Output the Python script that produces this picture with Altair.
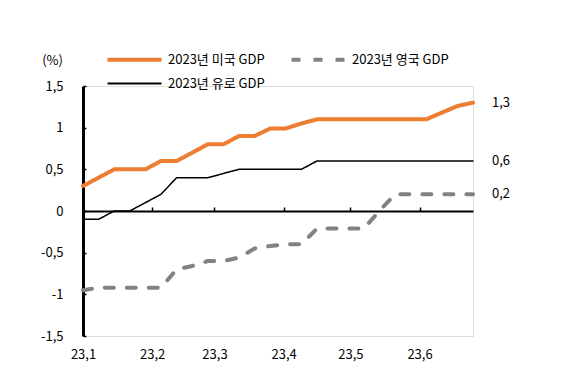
import altair as alt
import pandas as pd

dates = ["2023-01-01", "2023-01-08", "2023-01-15", "2023-01-22", "2023-01-29",
         "2023-02-05", "2023-02-12", "2023-02-19", "2023-02-26", "2023-03-05",
         "2023-03-12", "2023-03-19", "2023-03-26", "2023-04-02", "2023-04-09",
         "2023-04-16", "2023-04-23", "2023-04-30", "2023-05-07", "2023-05-14",
         "2023-05-21", "2023-05-28", "2023-06-04", "2023-06-11", "2023-06-18",
         "2023-06-25"]

us = [0.3, 0.4, 0.5, 0.5, 0.5, 0.6, 0.6, 0.7, 0.8, 0.8, 0.9, 0.9, 0.99, 0.99,
      1.05, 1.1, 1.1, 1.1, 1.1, 1.1, 1.1, 1.1, 1.1, 1.18, 1.26, 1.3]
uk = [-0.95, -0.92, -0.92, -0.92, -0.92, -0.92, -0.7, -0.66, -0.6, -0.6,
      -0.56, -0.45, -0.42, -0.4, -0.4, -0.21, -0.21, -0.21, -0.21, 0.0,
      0.2, 0.2, 0.2, 0.2, 0.2, 0.2]
euro = [-0.1, -0.1, 0.0, 0.0, 0.1, 0.2, 0.4, 0.4, 0.4, 0.45, 0.5, 0.5, 0.5,
        0.5, 0.5, 0.6, 0.6, 0.6, 0.6, 0.6, 0.6, 0.6, 0.6, 0.6, 0.6, 0.6]

series_names = ["2023년 미국 GDP", "2023년 영국 GDP", "2023년 유로 GDP"]
series_values = [us, uk, euro]
colors = ["#ED7D31", "#828282", "#000000"]
dashes = [[1, 0], [9, 13], [1, 0]]
widths = [4, 4, 1.5]
y_ticks = [-1.5, -1, -0.5, 0, 0.5, 1, 1.5]
FONT = "Noto Sans CJK KR"

rows = []
for name, vals, w in zip(series_names, series_values, widths):
    for d, v in zip(dates, vals):
        rows.append({"date": pd.Timestamp(d), "series": name, "value": v, "sw": w})
df = pd.DataFrame(rows)

last = pd.DataFrame({
    "date": [pd.Timestamp(dates[-1])] * 3,
    "series": series_names,
    "value": [vals[-1] for vals in series_values],
    "label": [f"{vals[-1]:.1f}".replace(".", ",") for vals in series_values],
})

month_ticks = [alt.DateTime(year=2023, month=m, date=1) for m in range(1, 7)]
x_scale = alt.Scale(domain=[alt.DateTime(year=2023, month=1, date=1),
                            alt.DateTime(year=2023, month=6, date=25)], nice=False)
y_scale = alt.Scale(domain=[-1.5, 1.5], nice=False)

sw_expr = "datum.value == '" + series_names[2] + "' ? 2 : 4"
leg = alt.Legend(title=None, orient="none", legendX=45, legendY=-33, columns=2,
                 direction="horizontal",
                 symbolType="M-3,0L3,0", symbolSize=324, labelOffset=27,
                 columnPadding=18, rowPadding=9, labelFontSize=13,
                 labelColor="#000", padding=0, labelLimit=0, labelFont=FONT,
                 symbolStrokeWidth=alt.ExprRef(expr=sw_expr))

lines = alt.Chart(df).mark_line(strokeCap="round", strokeJoin="round").encode(
    x=alt.X("date:T", scale=x_scale,
            axis=alt.Axis(orient="bottom", values=month_ticks, format="%y,%-m",
                          labelFlush=False, domain=False, ticks=False, tickSize=0,
                          labelPadding=12, grid=False, title=None,
                          labelFontSize=13, labelColor="#000", labelFont=FONT)),
    y=alt.Y("value:Q", scale=y_scale,
            axis=alt.Axis(orient="left", values=y_ticks,
                          labelExpr="replace(toString(datum.value), '.', ',')",
                          domain=False, ticks=False, tickSize=0, labelPadding=20,
                          grid=False, title="(%)", titleAngle=0, titleX=-31,
                          titleY=-26, titleAlign="center", titleBaseline="middle",
                          titleFontWeight="normal", titleFontSize=13,
                          titleFont=FONT, titleColor="#000",
                          labelFontSize=13, labelColor="#000", labelFont=FONT)),
    color=alt.Color("series:N", scale=alt.Scale(domain=series_names, range=colors),
                    legend=leg),
    strokeDash=alt.StrokeDash("series:N",
                              scale=alt.Scale(domain=series_names, range=dashes),
                              legend=leg),
    strokeWidth=alt.StrokeWidth("sw:Q", scale=None, legend=None),
)

labels = alt.Chart(last).mark_text(align="left", baseline="middle", dx=19,
                                   fontSize=13, color="#000", font=FONT).encode(
    x=alt.X("date:T", scale=x_scale,
            axis=alt.Axis(orient="top", offset=-125, values=month_ticks,
                          labels=False, domainColor="#000", domainWidth=2,
                          tickColor="#000", tickWidth=1.5, tickSize=4,
                          grid=False, title=None)),
    y=alt.Y("value:Q", scale=y_scale,
            axis=alt.Axis(orient="right", offset=-390, values=y_ticks,
                          labels=False, domainColor="#000", domainWidth=3,
                          tickColor="#000", tickWidth=1.5, tickSize=3,
                          grid=False, title=None)),
    text="label:N",
)

chart = alt.layer(lines, labels).resolve_axis(
    x="independent", y="independent"
).properties(
    width=390, height=250,
    padding={"left": 83, "top": 86, "right": 99, "bottom": 41},
    autosize="none", background="white",
).configure_view(stroke=None).configure(font=FONT)

chart.save("out.html", embed_options={"renderer": "svg", "actions": False})
